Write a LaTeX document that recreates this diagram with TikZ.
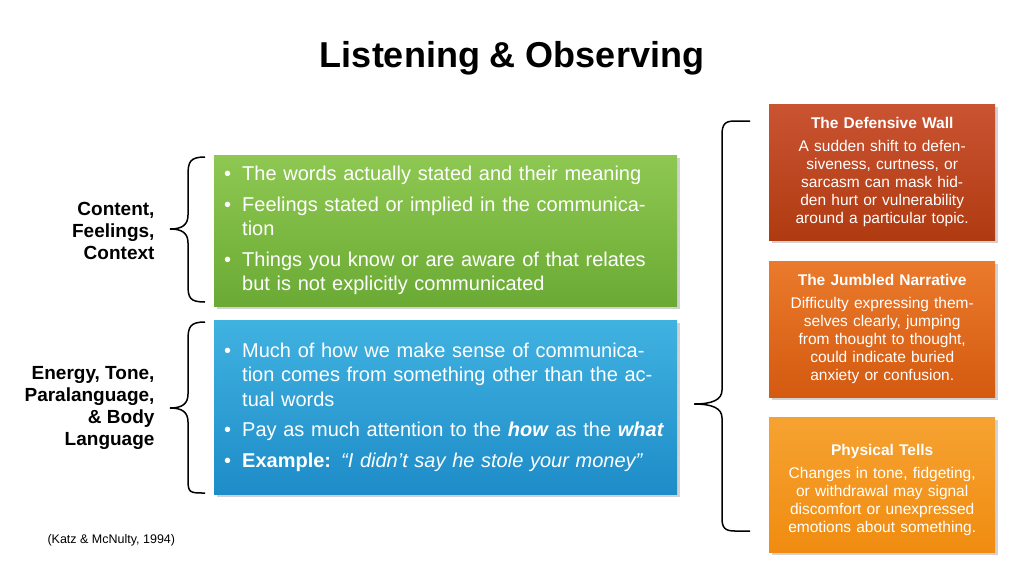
\documentclass[tikz,border=0pt]{standalone}
\usepackage{fontspec}
\setmainfont{Liberation Sans}
\usetikzlibrary{shadows}
\newcommand{\bitem}[1]{\noindent\hangindent=18pt\hangafter=1\makebox[18pt][l]{•}#1\par}
\tikzset{
  bulletbox/.style={minimum width=463pt, inner sep=10pt, text width=443pt, align=left,
    text=white, font=\fontsize{20}{24.5}\selectfont, drop shadow={opacity=0.35}},
  signbox/.style={minimum width=226pt, text width=216pt, inner sep=5pt, align=center,
    text=white, font=\fontsize{15.5}{18}\selectfont, drop shadow={opacity=0.35}},
  sidelabel/.style={align=right, anchor=east, font=\bfseries\fontsize{19}{22}\selectfont},
  brace/.style={thick, line width=1.5pt}
}
\begin{document}
\begin{tikzpicture}[x=1pt, y=-1pt]
  \useasboundingbox[fill=white] (0,0) rectangle (1024,576);

  \node[font=\bfseries\fontsize{36}{40}\selectfont] (title) at (512,58) {Listening \& Observing};

  % left column
  \node[bulletbox, top color={rgb,255:red,142;green,200;blue,82}, bottom color={rgb,255:red,106;green,170;blue,52},
        minimum height=151pt, anchor=north west] (words) at (214,155) {%
    \bitem{The words actually stated and their meaning}\vspace{6pt}
    \bitem{Feelings stated or implied in the communication}\vspace{6pt}
    \bitem{Things you know or are aware of that relates but is not explicitly communicated}};
  \node[bulletbox, top color={rgb,255:red,64;green,178;blue,224}, bottom color={rgb,255:red,30;green,140;blue,200},
        minimum height=174pt, anchor=north west] (tone) at (214,320) {%
    \bitem{Much of how we make sense of communication comes from something other than the actual words}\vspace{6pt}
    \bitem{Pay as much attention to the \textbf{\textit{how}} as the \textbf{\textit{what}}}\vspace{6pt}
    \bitem{\textbf{Example:} \textit{“I didn’t say he stole your money”}}};

  \node[sidelabel] (content) at (158,231) {Content,\\Feelings,\\Context};
  \node[sidelabel] (energy) at (158,408) {Energy, Tone,\\Paralanguage,\\\& Body\\Language};

  \coordinate (b1) at (170,229);
  \coordinate (b2) at (170,408);
  \draw[brace] (205,157) .. controls (190,157) and (188,162) .. (188,175) -- (188,215)
    .. controls (188,225) and (182,229) .. (b1) .. controls (182,229) and (188,233) .. (188,243)
    -- (188,285) .. controls (188,298) and (190,302) .. (205,302);
  \draw[brace] (205,322) .. controls (190,322) and (188,327) .. (188,340) -- (188,394)
    .. controls (188,404) and (182,408) .. (b2) .. controls (182,408) and (188,412) .. (188,422)
    -- (188,480) .. controls (188,493) and (190,493) .. (205,493);

  % right column
  \node[signbox, top color={rgb,255:red,202;green,84;blue,50}, bottom color={rgb,255:red,176;green,58;blue,16},
        minimum height=136pt, anchor=north west] (wall) at (769,104) {%
    \textbf{The Defensive Wall}\\[5pt]A sudden shift to defensiveness, curtness, or sarcasm can mask hidden hurt or vulnerability around a particular topic.\\[12pt]};
  \node[signbox, top color={rgb,255:red,234;green,122;blue,44}, bottom color={rgb,255:red,212;green,90;blue,16},
        minimum height=136pt, anchor=north west] (jumble) at (769,261) {%
    \textbf{The Jumbled Narrative}\\[5pt]Difficulty expressing themselves clearly, jumping from thought to thought, could indicate buried anxiety or confusion.\\[12pt]};
  \node[signbox, top color={rgb,255:red,246;green,162;blue,50}, bottom color={rgb,255:red,240;green,140;blue,16},
        minimum height=135pt, anchor=north west] (tells) at (769,417) {%
    \\[4pt]\textbf{Physical Tells}\\[5pt]Changes in tone, fidgeting, or withdrawal may signal discomfort or unexpressed emotions about something.};

  \coordinate (b3) at (694,404);
  \draw[brace] (750,121) -- (735,121) .. controls (725,121) and (722,124) .. (722,135) -- (722,390)
    .. controls (722,400) and (712,404) .. (b3) .. controls (712,404) and (722,408) .. (722,418)
    -- (722,518) .. controls (722,528) and (725,531) .. (735,531) -- (750,531);

  \node[anchor=west, font=\fontsize{12.5}{14}\selectfont] (cite) at (44,540) {(Katz \& McNulty, 1994)};
\end{tikzpicture}
\end{document}
